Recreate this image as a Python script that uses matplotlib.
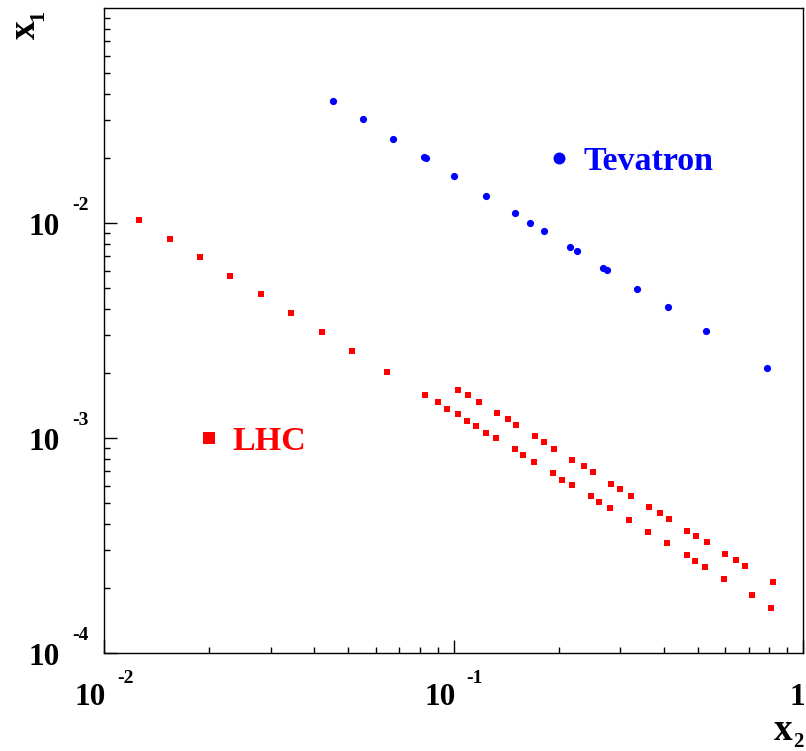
import matplotlib
matplotlib.use("Agg")
import matplotlib.pyplot as plt
from matplotlib.ticker import FixedLocator, LogLocator, NullFormatter
from matplotlib.transforms import ScaledTranslation

# fonts: bold Times-like everywhere
plt.rcParams['font.family'] = ['Liberation Serif', 'DejaVu Serif']
plt.rcParams['font.weight'] = 'bold'

# Tevatron points (x2, x1)
tev_x2 = [0.0451, 0.0551, 0.0673, 0.0823, 0.0834, 0.100, 0.1235, 0.150, 0.166,
          0.182, 0.216, 0.225, 0.268, 0.275, 0.335, 0.411, 0.528, 0.788]
tev_x1 = [0.0370, 0.0303, 0.0247, 0.0202, 0.0200, 0.0166, 0.0134, 0.0111, 0.0100,
          0.00913, 0.00770, 0.00740, 0.00616, 0.00606, 0.00495, 0.00406, 0.00315, 0.00211]

# LHC points, lower band
lhc_x2 = [0.0126, 0.0154, 0.0188, 0.0230, 0.0281, 0.0343, 0.0420, 0.0513, 0.0645,
          0.0827, 0.0904, 0.0955, 0.103, 0.109, 0.116, 0.124, 0.132, 0.150, 0.158,
          0.170, 0.192, 0.205, 0.219, 0.247, 0.260, 0.281, 0.317, 0.361, 0.407,
          0.465, 0.490, 0.523, 0.596, 0.716, 0.809]
lhc_x1 = [0.0103, 0.00846, 0.00692, 0.00567, 0.00465, 0.00380, 0.00312, 0.00255, 0.00203,
          0.00158, 0.00147, 0.00137, 0.00129, 0.00120, 0.00114, 0.00106, 0.00100, 0.000890,
          0.000831, 0.000777, 0.000691, 0.000640, 0.000605, 0.000537, 0.000502, 0.000471,
          0.000417, 0.000367, 0.000325, 0.000285, 0.000267, 0.000252, 0.000221, 0.000186,
          0.000162]

# LHC points, upper band
lhc_up_x2 = [0.103, 0.110, 0.118, 0.133, 0.143, 0.151, 0.171, 0.182, 0.194, 0.219,
             0.236, 0.250, 0.282, 0.300, 0.321, 0.363, 0.390, 0.413, 0.465, 0.495,
             0.531, 0.599, 0.644, 0.683, 0.820]
lhc_up_x1 = [0.00168, 0.00158, 0.00147, 0.00131, 0.00122, 0.00115, 0.00102, 0.000959,
             0.000893, 0.000791, 0.000737, 0.000693, 0.000614, 0.000580, 0.000540,
             0.000479, 0.000447, 0.000418, 0.000371, 0.000351, 0.000327, 0.000290,
             0.000271, 0.000253, 0.000213]

# legend entries: (marker x2, x1, text x2, label)
tev_key = (0.2, 0.02, 0.235, "Tevatron")
lhc_key = (0.02, 0.001, 0.0233, "LHC")

x_ticks = [1e-2, 1e-1, 1.0]
x_base = ["10", "10", "1"]
x_exp = ["-2", "-1", ""]
y_ticks = [1e-4, 1e-3, 1e-2]
y_base = ["10", "10", "10"]
y_exp = ["-4", "-3", "-2"]

fig = plt.figure(figsize=(8.06, 7.51), dpi=100)
ax = fig.add_axes([104/806, 1 - 653/751, (803 - 104)/806, (653 - 8)/751])
ax.set_xscale('log')
ax.set_yscale('log')
ax.set_xlim(1e-2, 1.0)
ax.set_ylim(1e-4, 1e-1)

ax.plot(tev_x2, tev_x1, 'o', color='blue', markersize=5.2, markeredgewidth=0, linestyle='none')
ax.plot(lhc_x2, lhc_x1, 's', color='red', markersize=5, markeredgewidth=0, linestyle='none')
ax.plot(lhc_up_x2, lhc_up_x1, 's', color='red', markersize=5, markeredgewidth=0, linestyle='none')

# in-plot keys
ax.plot([tev_key[0]], [tev_key[1]], 'o', color='blue', markersize=8.6, markeredgewidth=0)
ax.text(tev_key[2], tev_key[1], tev_key[3], color='blue', fontsize=24.5,
        fontweight='bold', ha='left', va='center_baseline')
ax.plot([lhc_key[0]], [lhc_key[1]], 's', color='red', markersize=8, markeredgewidth=0)
ax.text(lhc_key[2], lhc_key[1], lhc_key[3], color='red', fontsize=24.5,
        fontweight='bold', ha='left', va='center_baseline')

# ticks: inside, left/bottom only
ax.xaxis.set_major_locator(FixedLocator(x_ticks))
ax.yaxis.set_major_locator(FixedLocator(y_ticks))
ax.xaxis.set_minor_locator(LogLocator(base=10, subs=range(2, 10)))
ax.yaxis.set_minor_locator(LogLocator(base=10, subs=range(2, 10)))
ax.xaxis.set_minor_formatter(NullFormatter())
ax.yaxis.set_minor_formatter(NullFormatter())
ax.tick_params(which='both', direction='in', top=False, right=False,
               labelbottom=False, labelleft=False, width=1)
ax.tick_params(which='major', length=9.4)
ax.tick_params(which='minor', length=4.3)
for sp in ax.spines.values():
    sp.set_linewidth(1.0)

def px(dx, dy):
    return ScaledTranslation(dx / 100, dy / 100, fig.dpi_scale_trans)

# tick labels in ROOT style: "10" with a detached exponent
xt = ax.get_xaxis_transform()
for t, b, e in zip(x_ticks, x_base, x_exp):
    ax.text(t, 0, b, fontsize=22.5, ha='right', va='baseline', transform=xt + px(2, -52))
    if e:
        ax.text(t, 0, e, fontsize=14, ha='left', va='baseline', transform=xt + px(13, -30))

yt = ax.get_yaxis_transform()
for t, b, e in zip(y_ticks, y_base, y_exp):
    ax.text(0, t, b, fontsize=22.5, ha='right', va='baseline', transform=yt + px(-44, -12))
    ax.text(0, t, e, fontsize=14, ha='left', va='baseline', transform=yt + px(-32, 13))

# axis titles (letter + subscript drawn separately, ROOT style)
fig.text(793/806, 1 - 740/751, 'x', fontsize=27, ha='right', va='baseline')
fig.text(793/806, 1 - 747/751, '2', fontsize=15, ha='left', va='baseline')
fig.text(25.5/806, 1 - 29.5/751, 'x', fontsize=27, ha='center', va='center', rotation=90)
fig.text(38/806, 1 - 15/751, '1', fontsize=16, ha='center', va='center', rotation=90)

fig.savefig('out.png', dpi=100)
